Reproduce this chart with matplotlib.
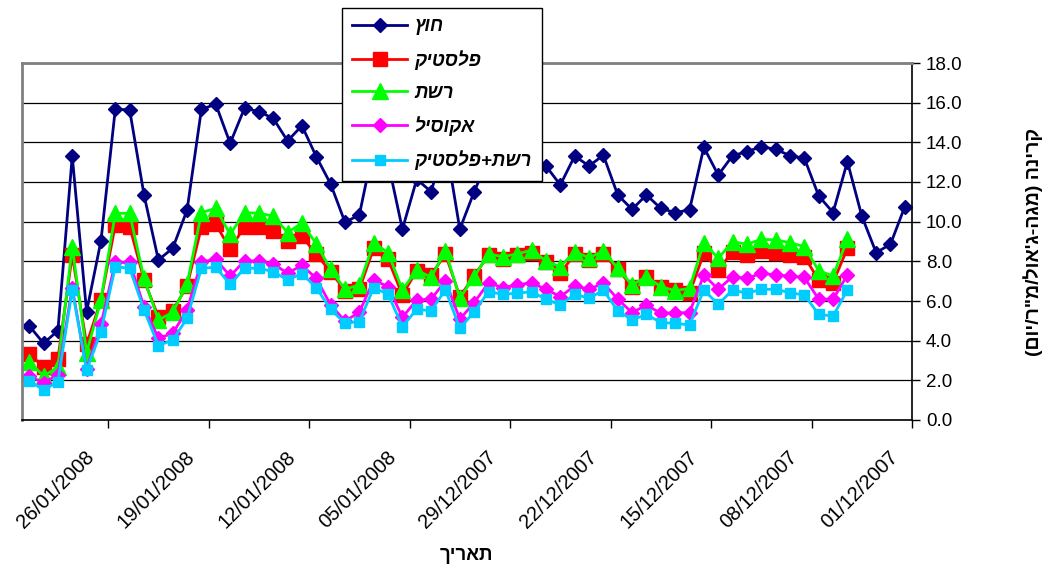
import numpy as np
import pandas as pd
import matplotlib
matplotlib.use('Agg')
import matplotlib.pyplot as plt
import matplotlib.dates as mdates
from matplotlib.transforms import ScaledTranslation

plt.rcParams['font.family'] = ['Liberation Sans', 'DejaVu Sans']

# Daily readings, newest first (31/01/2008 back to 01/12/2007)
first_day = np.datetime64('2008-01-31')

outside = [4.75, 3.87, 4.5, 13.31, 5.46, 9.03, 15.68, 15.63, 11.35, 8.07,
           8.66, 10.59, 15.67, 15.92, 13.95, 15.72, 15.55, 15.21, 14.07, 14.84,
           13.28, 11.9, 9.97, 10.34, 13.8, 13.0, 9.62, 12.14, 11.51, 14.0,
           9.62, 11.51, 13.2, 13.5, 12.9, 13.0, 12.81, 11.85, 13.31, 12.81,
           13.35, 11.35, 10.62, 11.35, 10.67, 10.46, 10.59, 13.75, 12.35, 13.33,
           13.53, 13.78, 13.65, 13.33, 13.2, 11.3, 10.46, 13.03, 10.29, 8.44,
           8.86, 10.76]

plastic = [3.33, 2.69, 3.08, 8.32, 3.82, 6.05, 9.83, 9.75, 7.06, 5.21,
           5.51, 6.76, 9.72, 9.88, 8.61, 9.75, 9.72, 9.55, 9.04, 9.27,
           8.35, 7.48, 6.52, 6.59, 8.66, 8.1, 6.3, 7.53, 7.31, 8.36,
           6.22, 7.26, 8.32, 8.12, 8.32, 8.44, 7.98, 7.4, 8.36, 8.07,
           8.36, 7.6, 6.72, 7.23, 6.72, 6.56, 6.39, 8.4, 7.56, 8.49,
           8.32, 8.54, 8.44, 8.32, 8.24, 7.06, 6.92, 8.66]

net = [2.94, 2.22, 2.66, 8.74, 3.39, 6.05, 10.42, 10.42, 7.14, 5.04,
       5.43, 6.84, 10.46, 10.67, 9.36, 10.46, 10.42, 10.29, 9.45, 9.93,
       8.88, 7.6, 6.59, 6.81, 8.94, 8.44, 6.56, 7.56, 7.19, 8.54,
       6.14, 7.23, 8.36, 8.24, 8.37, 8.57, 8.02, 7.73, 8.49, 8.18,
       8.52, 7.65, 6.81, 7.23, 6.72, 6.52, 6.64, 8.94, 8.15, 8.99,
       8.86, 9.11, 9.08, 8.94, 8.74, 7.53, 7.26, 9.11]

acousil = [2.22, 1.88, 2.27, 6.67, 2.56, 4.82, 7.95, 7.95, 5.71, 4.12,
           4.37, 5.55, 7.98, 8.1, 7.26, 8.02, 8.02, 7.87, 7.4, 7.8,
           7.14, 5.8, 4.99, 5.43, 7.06, 6.72, 5.18, 6.05, 6.09, 7.02,
           5.08, 5.92, 6.92, 6.67, 6.81, 6.92, 6.59, 6.22, 6.76, 6.59,
           6.9, 6.1, 5.41, 5.8, 5.38, 5.41, 5.41, 7.31, 6.59, 7.23,
           7.14, 7.4, 7.31, 7.26, 7.19, 6.09, 6.09, 7.31]

net_plastic = [1.98, 1.51, 1.93, 6.56, 2.52, 4.45, 7.73, 7.65, 5.55, 3.75,
               4.03, 5.13, 7.65, 7.7, 6.84, 7.65, 7.65, 7.48, 7.06, 7.38,
               6.67, 5.58, 4.88, 4.96, 6.67, 6.34, 4.71, 5.58, 5.51, 6.56,
               4.62, 5.46, 6.47, 6.34, 6.39, 6.47, 6.09, 5.8, 6.34, 6.14,
               6.54, 5.51, 5.04, 5.33, 4.91, 4.88, 4.79, 6.56, 5.83, 6.56,
               6.39, 6.59, 6.59, 6.42, 6.3, 5.33, 5.24, 6.56]

labels = ['חוץ', 'פלסטיק', 'רשת', 'אקוסיל', 'רשת+פלסטיק']
tick_dates = ['2008-01-26', '2008-01-19', '2008-01-12', '2008-01-05', '2007-12-29',
              '2007-12-22', '2007-12-15', '2007-12-08', '2007-12-01']


def heb(s):
    # matplotlib lays glyphs out left to right, so flip Hebrew for display
    return s[::-1].translate(str.maketrans('()', ')('))


# each day's point sits in the middle of its day slot
def day_x(n):
    d = pd.to_datetime(first_day - np.arange(n).astype('timedelta64[D]'))
    return d + pd.Timedelta(hours=12)


styles = [
    dict(color='#000080', marker='D', ms=7.5, lw=2.0),
    dict(color='#FF0000', marker='s', ms=9.5, lw=2.0),
    dict(color='#00FF00', marker='^', ms=11, lw=2.0),
    dict(color='#FF00FF', marker='D', ms=7, lw=2.0),
    dict(color='#00CCFF', marker='s', ms=7, lw=2.0),
]
series = [outside, plastic, net, acousil, net_plastic]

fig = plt.figure(figsize=(10.52, 5.71), dpi=100)
ax = fig.add_axes([22 / 1052, 1 - 420 / 571, 890 / 1052, 357 / 571])

lines = []
for vals, lab, st in zip(series, labels, styles):
    ln, = ax.plot(day_x(len(vals)), vals, label=heb(lab), color=st['color'],
                  marker=st['marker'], markersize=st['ms'], linewidth=st['lw'],
                  markeredgecolor=st['color'])
    lines.append(ln)

# dates run right to left
ax.set_xlim(pd.Timestamp('2008-02-01'), pd.Timestamp('2007-12-01'))
ax.set_ylim(0, 18)
ax.set_yticks(np.arange(0, 18.1, 2))
ax.yaxis.set_major_formatter(plt.FormatStrFormatter('%.1f'))
ax.yaxis.tick_right()
ax.tick_params(axis='y', direction='out', length=6, width=1, labelsize=13.5, pad=4)
ax.grid(axis='y', color='black', linewidth=0.9)
ax.set_axisbelow(True)

ax.set_xticks(pd.to_datetime(tick_dates))
ax.xaxis.set_major_formatter(mdates.DateFormatter('%d/%m/%Y'))
ax.tick_params(axis='x', direction='out', length=6, width=1, labelsize=14.5, pad=14)
shift = ScaledTranslation(-10 / 100, 0, fig.dpi_scale_trans)
for lbl in ax.get_xticklabels():
    lbl.set_rotation(45)
    lbl.set_ha('right')
    lbl.set_va('top')
    lbl.set_transform(lbl.get_transform() + shift)

for side in ['top', 'left']:
    ax.spines[side].set_color('#808080')
    ax.spines[side].set_linewidth(2)
for side in ['right', 'bottom']:
    ax.spines[side].set_color('black')
    ax.spines[side].set_linewidth(1.2)

fig.text(466 / 1052, 1 - 555 / 571, heb('תאריך'), ha='center', va='center',
         fontsize=13.5, fontweight='bold')
fig.text(1033 / 1052, 1 - 242 / 571, heb('קרינה (מגה-ג\'אול/מ"ר/יום)'),
         rotation=90, ha='center', va='center', fontsize=14, fontweight='bold')

leg = ax.legend(handles=lines, loc='upper left',
                bbox_to_anchor=(342 / 1052, 1 - 8 / 571),
                bbox_transform=fig.transFigure, fancybox=False, framealpha=1,
                edgecolor='black', handlelength=2.9, handletextpad=0.4,
                labelspacing=0.78, borderpad=0.55, borderaxespad=0,
                prop={'weight': 'bold', 'style': 'italic', 'size': 13.5})
leg.get_frame().set_linewidth(1.0)
leg.set_zorder(10)

fig.savefig('out.png', dpi=100)
